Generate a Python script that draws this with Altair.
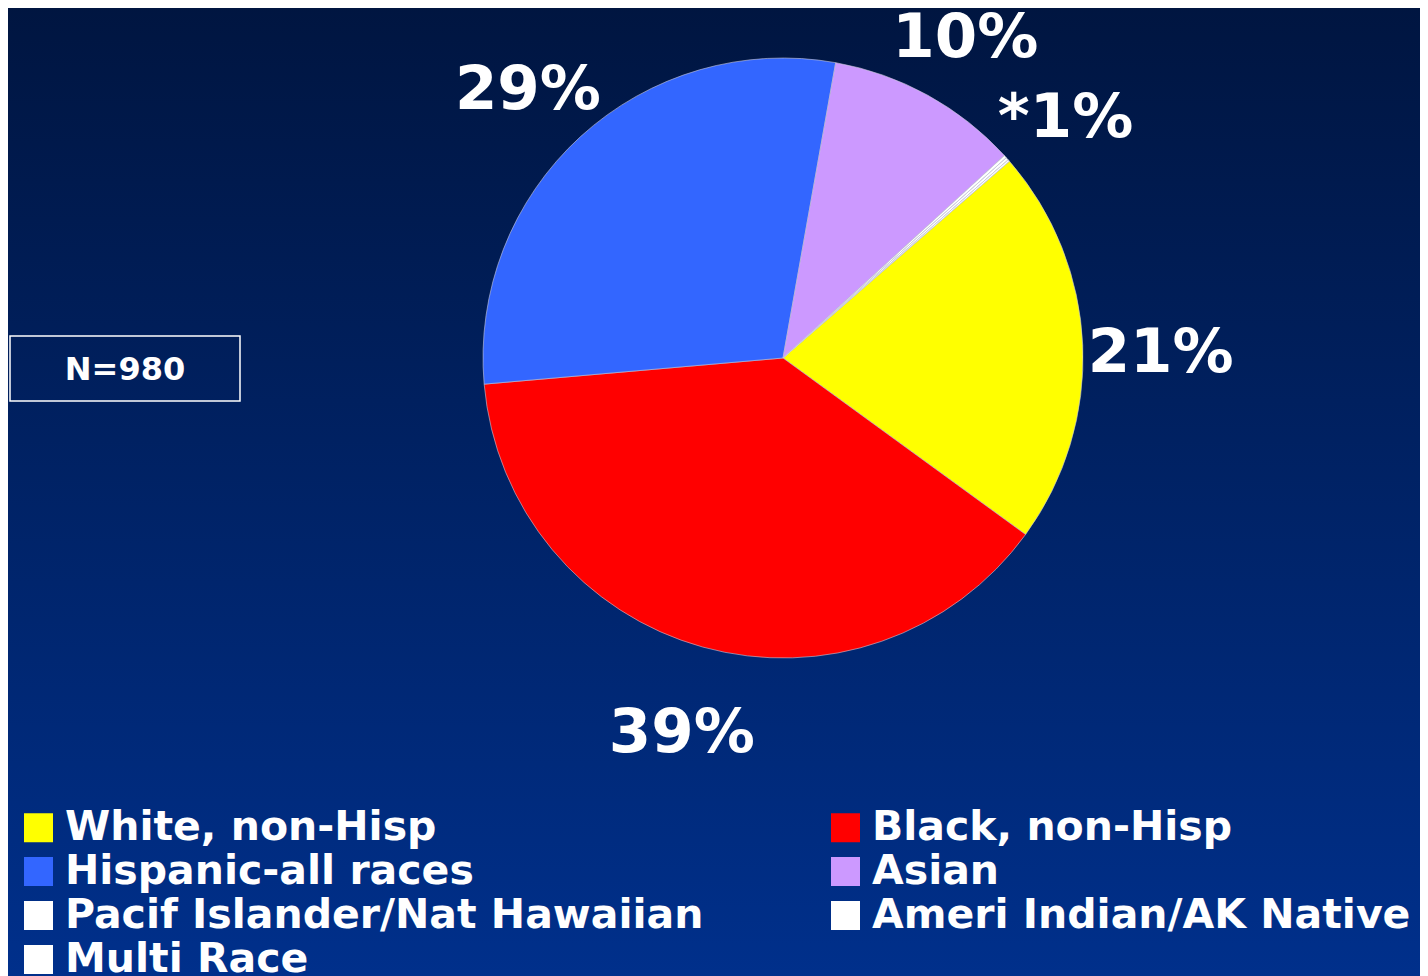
import math
import altair as alt
import pandas as pd

# ---- data ----
categories = ["White, non-Hisp", "Black, non-Hisp", "Hispanic-all races", "Asian",
              "Pacif Islander/Nat Hawaiian", "Ameri Indian/AK Native", "Multi Race"]
percent = [21.4, 38.6, 29.2, 10.4, 0.15, 0.15, 0.1]
labels = ["21%", "39%", "29%", "10%", "", "*1%", ""]
colors = ["#FFFF00", "#FF0000", "#3366FF", "#CC99FF", "#FFFFFF", "#FFFFFF", "#FFFFFF"]
n_text = ["N=980"]

df = pd.DataFrame({
    "cat": categories,
    "pct": percent,
    "label": labels,
    "idx": list(range(len(categories))),
})

W, H = 1412, 968
CX, CY = 775, 350
R = 300
start = math.radians(49)
FONT = "DejaVu Sans"

theta_enc = alt.Theta("pct:Q", stack=True,
                      scale=alt.Scale(range=[start, start + 2 * math.pi]))
color_enc = alt.Color(
    "cat:N",
    scale=alt.Scale(domain=categories, range=colors),
    sort=categories,
    legend=alt.Legend(
        title=None, orient="none", legendX=10, legendY=799,
        direction="horizontal", columns=2, columnPadding=121, rowPadding=2,
        symbolType="square", symbolSize=841, symbolStrokeWidth=0,
        symbolOpacity=1,
        labelFont=FONT, labelFontSize=41, labelFontWeight="bold",
        labelColor="white", labelLimit=1000, labelOffset=6,
        padding=0,
    ),
)

bg = alt.Chart(pd.DataFrame({"a": [0]})).mark_rect(
    color=alt.Gradient(
        gradient="linear",
        stops=[alt.GradientStop(color="#001540", offset=0),
               alt.GradientStop(color="#00308C", offset=1)],
        x1=0, x2=0, y1=0, y2=1,
    )
).encode(x=alt.value(-8), x2=alt.value(W + 8), y=alt.value(-8), y2=alt.value(H + 8))

pie = alt.Chart(df).mark_arc(radius=R, stroke="#C8C8D8", strokeWidth=0.6).encode(
    theta=theta_enc,
    color=color_enc,
    order=alt.Order("idx:Q"),
    x=alt.value(CX), y=alt.value(CY),
)

txt = alt.Chart(df).mark_text(
    radius=378, dy=12, font=FONT, fontSize=61, fontWeight="bold", color="white",
    align="center", baseline="middle",
).encode(
    theta=theta_enc,
    text="label:N",
    order=alt.Order("idx:Q"),
    x=alt.value(CX), y=alt.value(CY),
)

nbox = alt.Chart(pd.DataFrame({"t": n_text})).mark_rect(
    fill=None, fillOpacity=0, stroke="white", strokeWidth=1.5
).encode(x=alt.value(2), x2=alt.value(232), y=alt.value(328), y2=alt.value(393))

ntxt = alt.Chart(pd.DataFrame({"t": n_text})).mark_text(
    font=FONT, fontSize=32, fontWeight="bold", color="white",
    align="center", baseline="middle",
).encode(text="t:N", x=alt.value(117), y=alt.value(362))

chart = alt.layer(bg, pie, txt, nbox, ntxt).properties(
    width=W, height=H,
    autosize=alt.AutoSizeParams(type="none"),
    padding=0,
    background="#00206A",
).configure_view(stroke=None)

chart.save("out.html", embed_options={"renderer": "svg", "actions": False})
